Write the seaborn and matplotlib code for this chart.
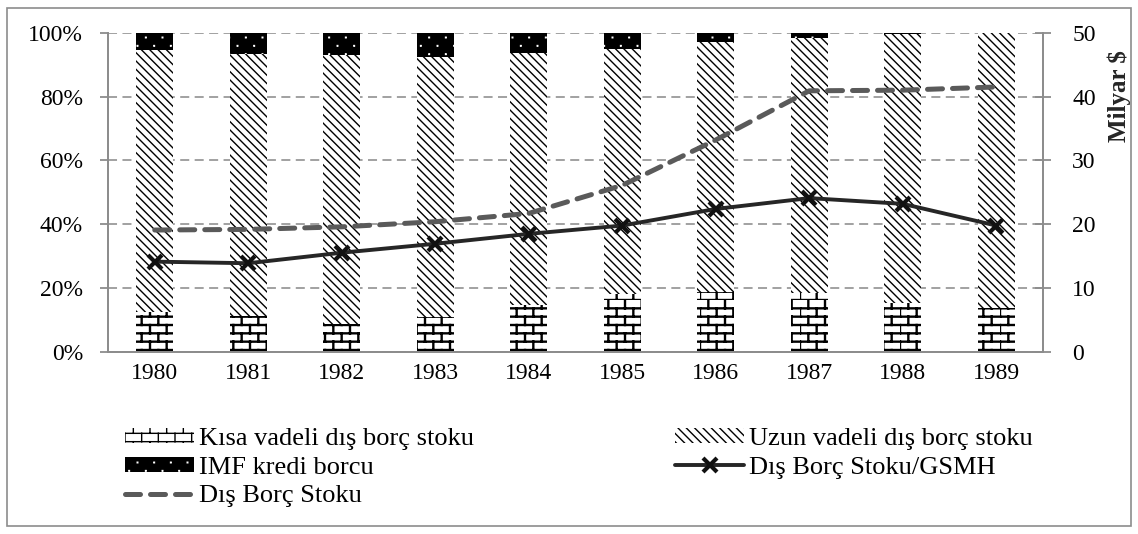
import numpy as np
import matplotlib
matplotlib.use("Agg")
import matplotlib.pyplot as plt
import matplotlib.hatch as mhatch
from matplotlib.path import Path
from matplotlib.patches import Rectangle
from matplotlib.ticker import PercentFormatter
import seaborn as sns

# --- data ---
years = ["1980", "1981", "1982", "1983", "1984", "1985", "1986", "1987", "1988", "1989"]
kisa_vadeli = [12.5, 11.3, 8.8, 11.1, 14.6, 18.2, 18.9, 18.5, 15.4, 13.7]   # % share
uzun_vadeli = [82.1, 81.9, 84.1, 81.3, 79.0, 76.8, 78.1, 79.8, 84.2, 86.3]  # % share
imf_borcu = [5.4, 6.8, 7.1, 7.6, 6.4, 5.0, 3.0, 1.7, 0.4, 0.0]             # % share
borc_gsmh = [28.3, 27.8, 31.1, 33.9, 37.0, 39.6, 44.8, 48.2, 46.4, 39.6]   # % (left axis)
borc_stoku = [19.1, 19.2, 19.6, 20.4, 21.7, 26.1, 33.2, 40.9, 41.0, 41.5]  # milyar $ (right axis)

labels = ["Kısa vadeli dış borç stoku", "Uzun vadeli dış borç stoku", "IMF kredi borcu",
          "Dış Borç Stoku/GSMH", "Dış Borç Stoku"]


# brick hatch for the short-term series (takes over the unused '*' pattern)
class BrickHatch(mhatch.HatchPatternBase):
    def __init__(self, hatch, density):
        n = hatch.count('*')
        self.rows = int(n * density * 2)
        self.cols = int(n * density)
        self.num_vertices = self.rows * 2 + self.rows * self.cols * 2

    def set_vertices_and_codes(self, vertices, codes):
        k = 0
        for i in range(self.rows):
            y0, y1 = i / self.rows, (i + 1) / self.rows
            vertices[k], vertices[k + 1] = (0, y0), (1, y0)
            k += 2
            for j in range(self.cols):
                x = (j + 0.5 * (i % 2)) / self.cols
                vertices[k], vertices[k + 1] = (x, y0), (x, y1)
                k += 2
        codes[0::2] = Path.MOVETO
        codes[1::2] = Path.LINETO


# tiny staggered dots for the IMF series (takes over the unused 'O' pattern)
class DotHatch(mhatch.HatchPatternBase):
    def __init__(self, hatch, density):
        n = hatch.count('O')
        self.rows = int(n * density * 2)
        self.cols = int(n * density)
        self.num_vertices = self.rows * self.cols * 5

    def set_vertices_and_codes(self, vertices, codes):
        d = 0.003
        k = 0
        for i in range(self.rows):
            y = (i + 0.5) / self.rows
            for j in range(self.cols):
                x = (j + 0.25 + 0.5 * (i % 2)) / self.cols
                vertices[k:k + 5] = [(x - d, y - d), (x + d, y - d), (x + d, y + d),
                                     (x - d, y + d), (x - d, y - d)]
                codes[k:k + 5] = [Path.MOVETO, Path.LINETO, Path.LINETO, Path.LINETO,
                                  Path.CLOSEPOLY]
                k += 5


swap = {mhatch.Stars: BrickHatch, mhatch.LargeCircles: DotHatch}
mhatch._hatch_types = [swap.get(t, t) for t in mhatch._hatch_types]

sns.set_style("white")
plt.rcParams['font.family'] = ['Liberation Serif', 'DejaVu Serif']
plt.rcParams['text.color'] = 'black'

GRAY = '#8c8c8c'
FS = 17

fig = plt.figure(figsize=(11.38, 5.34), dpi=100)
ax = fig.add_axes([108 / 1138, 182 / 534, 935 / 1138, 319.3 / 534])

# stacked bars: draw the cumulative totals from the top layer down
alt = np.array(kisa_vadeli)
orta = alt + np.array(uzun_vadeli)
ust = orta + np.array(imf_borcu)

plt.rcParams['hatch.linewidth'] = 1.0
sns.barplot(x=years, y=ust, color='black', saturation=1, width=0.4, hatch='O',
            edgecolor='white', linewidth=0, errorbar=None, ax=ax)
sns.barplot(x=years, y=orta, color='white', saturation=1, width=0.4, hatch='\\\\\\\\',
            edgecolor='black', linewidth=0, errorbar=None, ax=ax)
plt.rcParams['hatch.linewidth'] = 1.7
sns.barplot(x=years, y=alt, color='white', saturation=1, width=0.4, hatch='*',
            edgecolor='black', linewidth=0, errorbar=None, ax=ax)
for p in ax.containers[2]:
    if hasattr(p, 'set_hatch_linewidth'):
        p.set_hatch_linewidth(1.7)
plt.rcParams['hatch.linewidth'] = 1.0

ax2 = ax.twinx()
pos = np.arange(len(years))
sns.lineplot(x=pos, y=borc_stoku, color='#5a5a5a', linewidth=3.6, ax=ax2, legend=False)
sns.lineplot(x=pos, y=np.array(borc_gsmh) / 2, color='#262626', linewidth=2.8, marker='x',
             markersize=10, markeredgewidth=3.0, markeredgecolor='#111111', ax=ax2,
             legend=False)
# (GSMH ratio is a % value: plotted at half height so it reads on the left 0-100% scale)
stok_line, gsmh_line = ax2.lines[0], ax2.lines[1]
stok_line.set_dashes((3.0, 2.0))
stok_line.set_dash_capstyle('round')

# left axis
ax.set_ylim(0, 100)
ax.set_yticks(range(0, 101, 20))
ax.yaxis.set_major_formatter(PercentFormatter(100, decimals=0))
ax.set_xlim(-0.5, len(years) - 0.5)
ax.set_xticks(np.arange(len(years) + 1) - 0.5, minor=True)
ax.yaxis.grid(True, color='#9a9a9a', linestyle=(0, (5, 3)), linewidth=1.3)
ax.xaxis.grid(False)
ax.set_axisbelow(True)
ax.tick_params(axis='x', which='major', length=0, pad=8, labelsize=FS, labelcolor='black')
ax.tick_params(axis='x', which='minor', length=7, width=1.3, color=GRAY, direction='out')
ax.tick_params(axis='y', length=6, width=1.3, color=GRAY, direction='out', pad=12,
               labelsize=FS, labelcolor='black')
ax.set_xlabel('')
ax.set_ylabel('')

# right axis
ax2.set_ylim(0, 50)
ax2.set_yticks(range(0, 51, 10))
ax2.tick_params(axis='y', direction='inout', length=12, width=1.3, color=GRAY, pad=15,
                labelsize=FS, labelcolor='black')
ax2.set_ylabel('Milyar $', fontsize=18, fontweight='bold')
ax2.yaxis.set_label_coords(1.069, 0.80)
ax2.set_xlabel('')

for a in (ax, ax2):
    a.spines['top'].set_visible(False)
    for s in ('left', 'right', 'bottom'):
        a.spines[s].set_color(GRAY)
        a.spines[s].set_linewidth(1.3)

# legend below the plot, two columns
handles = [ax.containers[2], ax.containers[0], stok_line, ax.containers[1], gsmh_line]
leg_labels = [labels[0], labels[2], labels[4], labels[1], labels[3]]
fig.legend(handles, leg_labels, loc='upper left', bbox_to_anchor=(125 / 1138, 1 - 428 / 534),
           ncol=2, frameon=False, fontsize=19, handlelength=2.6, handleheight=0.5,
           handletextpad=0.2, columnspacing=7.63, labelspacing=0.25, borderpad=0,
           borderaxespad=0)

# outer chart border
fig.add_artist(Rectangle((7 / 1138, 8 / 534), 1124 / 1138, 518 / 534, transform=fig.transFigure,
                         fill=False, edgecolor=GRAY, linewidth=1.2))

fig.savefig("out.png", dpi=100)
